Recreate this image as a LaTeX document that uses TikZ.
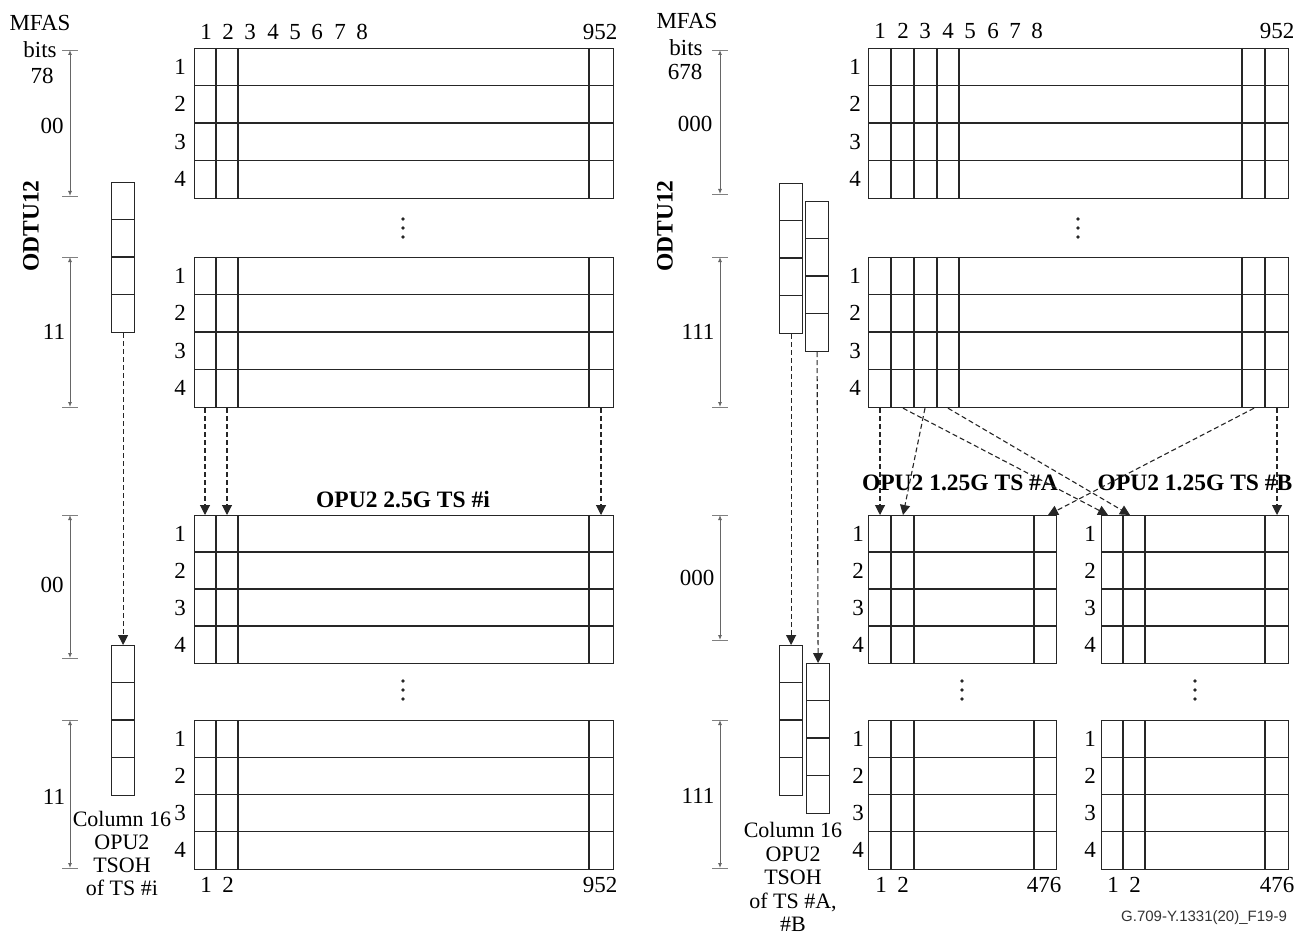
\documentclass[tikz,border=0pt]{standalone}
\usepackage{fontspec}
\setmainfont{Liberation Serif}
\newfontfamily\idfont{Liberation Sans}
\usetikzlibrary{arrows.meta,calc}
\tikzset{
  gridtab/.style={draw=black!85, line width=1.2pt, inner sep=0pt, anchor=north west},
  gl/.style={draw=black!85, line width=1.1pt},
  lbl/.style={font=\fontsize{23}{24}\selectfont, inner sep=0pt},
  blbl/.style={font=\fontsize{23.5}{24}\selectfont\bfseries, inner sep=0pt},
  dimline/.style={draw=black!60, line width=0.9pt, {Latex[length=5pt,width=4pt]}-{Latex[length=5pt,width=4pt]}},
  tickline/.style={draw=black!50, line width=0.9pt},
  darr/.style={draw=black!85, line width=1.1pt, dash pattern=on 5pt off 3pt, -{Triangle[length=10pt,width=10pt]}},
}
% grid: name, x1, y1, x2, y2, column list, row-label x
\newcommand\gridtab[7]{%
  \node[gridtab, minimum width={#4pt-#2pt}, minimum height={#5pt-#3pt}] (#1) at (#2,#3) {};
  \foreach \k in {1,2,3} \draw[gl] (#2,{#3+\k*(#5-#3)/4}) -- (#4,{#3+\k*(#5-#3)/4});
  \foreach \c in {#6} \draw[gl] (\c,#3) -- (\c,#5);
  \foreach \k in {1,...,4} \node[lbl] (#1-r\k) at (#7,{#3+(\k-0.5)*(#5-#3)/4}) {\k};
}
% TSOH column: name, x1, y1, x2, y2
\newcommand\tsohcol[5]{%
  \node[gridtab, minimum width={#4pt-#2pt}, minimum height={#5pt-#3pt}] (#1) at (#2,#3) {};
  \foreach \k in {1,2,3} \draw[gl] (#2,{#3+\k*(#5-#3)/4}) -- (#4,{#3+\k*(#5-#3)/4});
}
% dimension bracket: x, y1, y2
\newcommand\dimbar[3]{%
  \draw[tickline] (#1-8,#2) -- (#1+8,#2);
  \draw[tickline] (#1-8,#3) -- (#1+8,#3);
  \draw[dimline] (#1,#2) -- (#1,#3);
}
\newcommand\vdotsat[2]{%
  \foreach \d in {-9,0,9} \fill[black!85] (#1,#2+\d) circle (1.9);
}
\begin{document}
\begin{tikzpicture}[x=1pt,y=-1pt]
\useasboundingbox (0,0) rectangle (1308,941);

%================ LEFT PANEL =================
\gridtab{gL1}{194}{48}{613}{198}{216,238,589}{180}
\gridtab{gL2}{194}{257}{613}{407}{216,238,589}{180}
\gridtab{gL3}{194}{515}{613}{663}{216,238,589}{180}
\gridtab{gL4}{194}{720}{613}{869}{216,238,589}{180}

\foreach \t/\x in {1/206,2/228,3/250,4/273,5/295,6/317,7/340,8/362}
  \node[lbl] (hL\t) at (\x,32) {\t};
\node[lbl] (hL952) at (600,32) {952};
\node[lbl] (fL1) at (206,885) {1};
\node[lbl] (fL2) at (228,885) {2};
\node[lbl] (fL952) at (600,885) {952};

\vdotsat{403}{228}
\vdotsat{403}{690}

\node[blbl] (tsi) at (403,500) {OPU2 2.5G TS \#i};

\coordinate (cL1) at (205,0);
\coordinate (cL2) at (227,0);
\coordinate (cL3) at (601,0);
\draw[darr] (gL2.south -| cL1) -- (gL3.north -| cL1);
\draw[darr] (gL2.south -| cL2) -- (gL3.north -| cL2);
\draw[darr] (gL2.south -| cL3) -- (gL3.north -| cL3);

\tsohcol{tL1}{111}{182}{134}{332}
\tsohcol{tL2}{111}{645}{134}{795}
\draw[darr] (tL1.south) -- (tL2.north);
\node[lbl, align=center, font=\fontsize{22}{23}\selectfont] (txL) at (122,853)
  {Column 16\\OPU2\\TSOH\\of TS \#i};

\dimbar{70}{50}{196}
\dimbar{70}{257}{407}
\dimbar{70}{515}{658}
\dimbar{70}{720}{868}
\node[lbl] (mfL) at (40,23) {MFAS};
\node[lbl] (bL) at (40,50) {bits};
\node[lbl] (b78) at (42,76) {78};
\node[lbl] (v00a) at (52,126) {00};
\node[lbl] (v11a) at (54,332) {11};
\node[lbl] (v00b) at (52,585) {00};
\node[lbl] (v11b) at (54,797) {11};
\node[blbl, rotate=90] (odL) at (31,226) {ODTU12};

%================ RIGHT PANEL =================
\gridtab{gR1}{868}{48}{1288}{198}{891,914,937,959,1242,1265}{855}
\gridtab{gR2}{868}{257}{1288}{407}{891,914,937,959,1242,1265}{855}
\gridtab{gA3}{868}{515}{1056}{663}{891,914,1034}{858}
\gridtab{gB3}{1101}{515}{1288}{663}{1123,1145,1265}{1090}
\gridtab{gA4}{868}{720}{1056}{869}{891,914,1034}{858}
\gridtab{gB4}{1101}{720}{1288}{869}{1123,1145,1265}{1090}

\foreach \t/\x in {1/880,2/903,3/925,4/948,5/970,6/993,7/1015,8/1037}
  \node[lbl] (hR\t) at (\x,31) {\t};
\node[lbl] (hR952) at (1277,31) {952};
\node[lbl] (fA1) at (881,885) {1};
\node[lbl] (fA2) at (903,885) {2};
\node[lbl] (fA476) at (1044,885) {476};
\node[lbl] (fB1) at (1113,885) {1};
\node[lbl] (fB2) at (1135,885) {2};
\node[lbl] (fB476) at (1277,885) {476};

\vdotsat{1078}{228}
\vdotsat{962}{690}
\vdotsat{1195}{690}

\node[blbl] (tsa) at (960,483) {OPU2 1.25G TS \#A};
\node[blbl] (tsb) at (1195,483) {OPU2 1.25G TS \#B};

\coordinate (sR1) at (880,0);
\coordinate (sR2) at (903,0);
\coordinate (sR3) at (925,0);
\coordinate (sR4) at (948,0);
\coordinate (sR951) at (1254,0);
\coordinate (sR952) at (1277,0);
\coordinate (eA1) at (880,0);
\coordinate (eA2) at (903,0);
\coordinate (eA476) at (1048,0);
\coordinate (eB1) at (1108,0);
\coordinate (eB2) at (1130,0);
\coordinate (eB476) at (1277,0);
\draw[darr] (gR2.south -| sR1) -- (gA3.north -| eA1);
\draw[darr] (gR2.south -| sR3) -- (gA3.north -| eA2);
\draw[darr] (gR2.south -| sR2) -- (gB3.north -| eB1);
\draw[darr] (gR2.south -| sR4) -- (gB3.north -| eB2);
\draw[darr] (gR2.south -| sR951) -- (gA3.north -| eA476);
\draw[darr] (gR2.south -| sR952) -- (gB3.north -| eB476);

\tsohcol{tRA1}{779}{183}{802}{333}
\tsohcol{tRB1}{805}{201}{828}{351}
\tsohcol{tRA2}{779}{645}{802}{795}
\tsohcol{tRB2}{806}{663}{829}{813}
\draw[darr] (tRA1.south) -- (tRA2.north);
\draw[darr] (tRB1.south) -- (tRB2.north);
\node[lbl, align=center, font=\fontsize{22}{23.5}\selectfont] (txR) at (793,877)
  {Column 16\\OPU2\\TSOH\\of TS \#A,\\\#B};

\dimbar{720}{50}{194}
\dimbar{720}{257}{407}
\dimbar{720}{515}{640}
\dimbar{720}{720}{868}
\node[lbl] (mfR) at (687,21) {MFAS};
\node[lbl] (bR) at (686,48) {bits};
\node[lbl] (b678) at (685,72) {678};
\node[lbl] (v000a) at (695,124) {000};
\node[lbl] (v111a) at (698,332) {111};
\node[lbl] (v000b) at (697,578) {000};
\node[lbl] (v111b) at (698,796) {111};
\node[blbl, rotate=90] (odR) at (665,226) {ODTU12};

\node[inner sep=0pt, font=\idfont\fontsize{15}{16}\selectfont, text=black!80] (fig) at (1204,918) {G.709-Y.1331(20)\_F19-9};
\end{tikzpicture}
\end{document}
